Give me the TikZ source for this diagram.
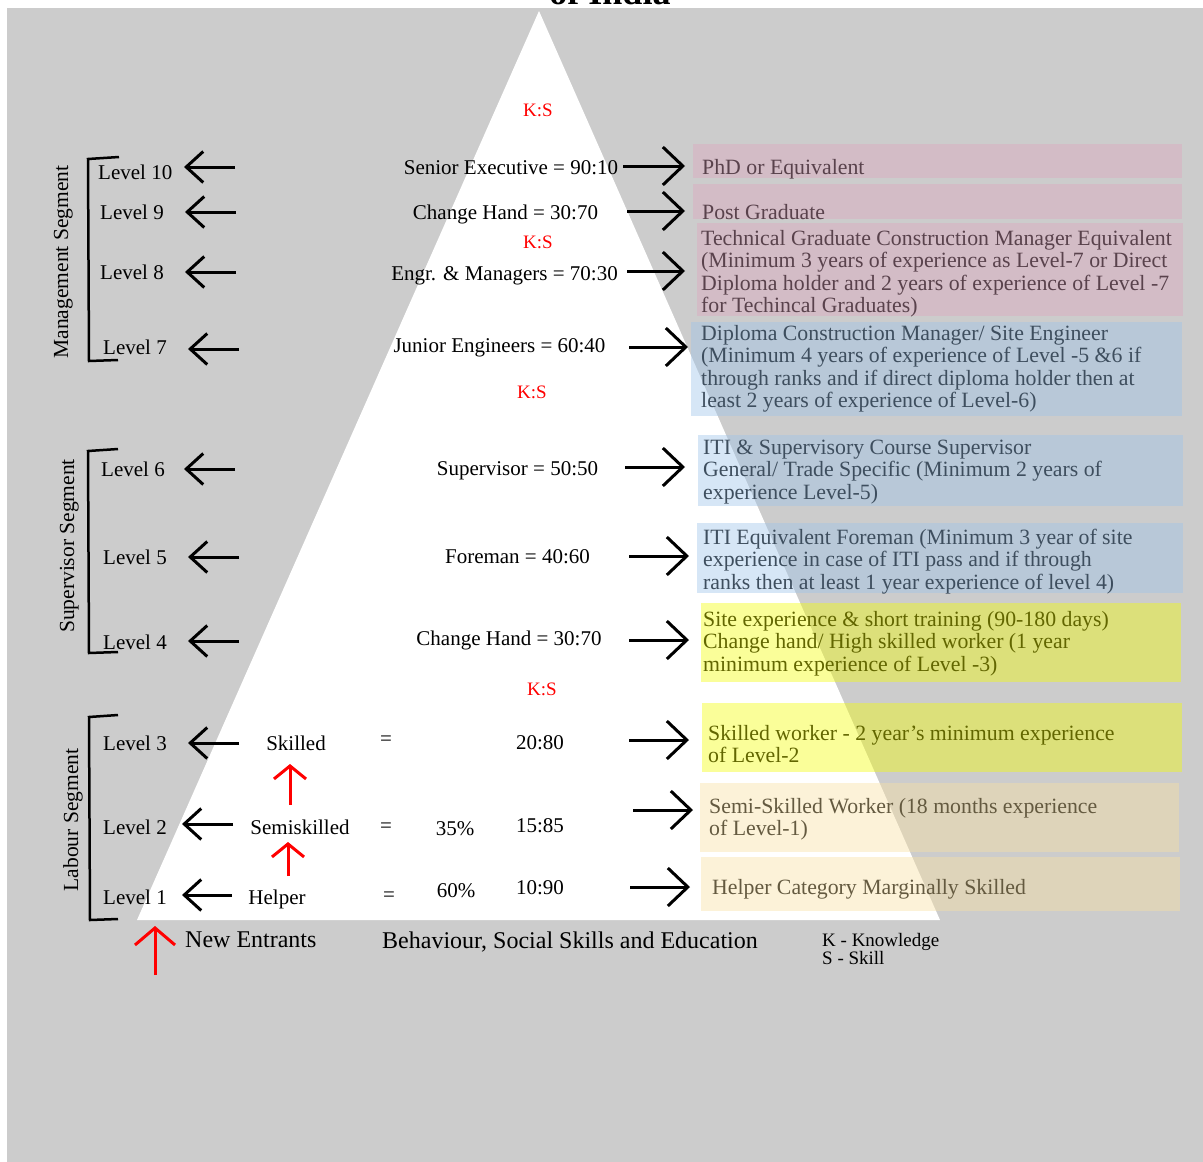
\documentclass[tikz,border=0pt]{standalone}
\usepackage{fontspec}
\setmainfont{Liberation Serif}
\usetikzlibrary{arrows.meta}
\definecolor{bggray}{RGB}{204,204,204}
\definecolor{pinkC}{RGB}{222,164,189}
\definecolor{blueC}{RGB}{154,194,234}
\definecolor{yelC}{RGB}{244,254,0}
\definecolor{beigeC}{RGB}{249,224,159}
\definecolor{pinkT}{RGB}{89,66,76}
\definecolor{blueT}{RGB}{62,78,94}
\definecolor{yelT}{RGB}{98,102,0}
\definecolor{beigeT}{RGB}{100,90,64}
\definecolor{ksred}{RGB}{255,0,0}
\begin{document}
\begin{tikzpicture}[x=1pt,y=-1pt,
 txt/.style={inner sep=0pt, anchor=base, font=\fontsize{21}{22.5}\selectfont, text=black},
 lvl/.style={txt, anchor=base west},
 ks/.style={inner sep=0pt, anchor=base, font=\fontsize{19}{22}\selectfont, text=ksred},
 seg/.style={inner sep=0pt, anchor=base, rotate=90, font=\fontsize{21.5}{24}\selectfont},
 cbox/.style={inner sep=0pt, anchor=north west, fill=#1, fill opacity=0.4, draw=none},
 btxt/.style={inner sep=0pt, anchor=north west, align=left, font=\fontsize{21.8}{22.5}\selectfont, text=#1},
 bigtxt/.style={inner sep=0pt, anchor=base west, font=\fontsize{24}{26}\selectfont},
 legtxt/.style={inner sep=0pt, anchor=base west, font=\fontsize{19}{18}\selectfont},
 larr/.style={line width=3pt, -{Straight Barb[length=17pt,width=31pt]}},
 rarr/.style={line width=3pt, -{Straight Barb[length=20pt,width=38pt]}},
 uarr/.style={line width=3pt, draw=red, -{Straight Barb[length=13pt,width=32pt]}},
 brk/.style={line width=2.5pt, line join=miter},
]
\useasboundingbox (0,0) rectangle (1203,1162);
\fill[white] (0,0) rectangle (1203,1162);
\fill[bggray] (7,8) rectangle (1203,1162);
% clipped title remnant
\begin{scope}
\clip (0,0) rectangle (1203,8);
\node[inner sep=0pt, anchor=base, font=\fontsize{36}{38}\selectfont\bfseries] (title) at (610,4) {of India};
\end{scope}
% pyramid
\fill[white] (539,11) -- (137,920) -- (940,920) -- cycle;

% coloured boxes
\node[cbox=pinkC, minimum width=489pt, minimum height=34pt] (b1) at (693,144) {};
\node[cbox=pinkC, minimum width=489pt, minimum height=35pt] (b2) at (693,184) {};
\node[cbox=pinkC, minimum width=486pt, minimum height=93pt] (b3) at (697,223) {};
\node[cbox=blueC, minimum width=491pt, minimum height=94pt] (b4) at (691,322) {};
\node[cbox=blueC, minimum width=485pt, minimum height=71pt] (b5) at (698,435) {};
\node[cbox=blueC, minimum width=486pt, minimum height=70pt] (b6) at (697,523) {};
\node[cbox=yelC, minimum width=480pt, minimum height=79pt] (b7) at (701,603) {};
\node[cbox=yelC, minimum width=480pt, minimum height=69pt] (b8) at (702,703) {};
\node[cbox=beigeC, minimum width=479pt, minimum height=69pt] (b9) at (700,783) {};
\node[cbox=beigeC, minimum width=479pt, minimum height=54pt] (b10) at (701,857) {};

% box texts
\node[btxt=pinkT] (t1) at (702,158.25) {\strut PhD or Equivalent};
\node[btxt=pinkT] (t2) at (702,203.25) {\strut Post Graduate};
\node[btxt=pinkT] (t3) at (701,229.25) {\strut Technical Graduate Construction Manager Equivalent\\(Minimum 3 years of experience as Level-7 or Direct\\Diploma holder and 2 years of experience of Level -7\\for Techincal Graduates)};
\node[btxt=blueT] (t4) at (701,324.25) {\strut Diploma Construction Manager/ Site Engineer\\(Minimum 4 years of experience of Level -5 \&6 if\\through ranks and if direct diploma holder then at\\least 2 years of experience of Level-6)};
\node[btxt=blueT] (t5) at (703,438.25) {\strut ITI \& Supervisory Course Supervisor\\General/ Trade Specific (Minimum 2 years of\\experience Level-5)};
\node[btxt=blueT] (t6) at (703,528.25) {\strut ITI Equivalent Foreman (Minimum 3 year of site\\experience in case of ITI pass and if through\\ranks then at least 1 year experience of level 4)};
\node[btxt=yelT] (t7) at (703,610.25) {\strut Site experience \& short training (90-180 days)\\Change hand/ High skilled worker (1 year\\minimum experience of Level -3)};
\node[btxt=yelT] (t8) at (708,724.25) {\strut Skilled worker - 2 year's minimum experience\\of Level-2};
\node[btxt=beigeT] (t9) at (709,797.25) {\strut Semi-Skilled Worker (18 months experience\\of Level-1)};
\node[btxt=beigeT] (t10) at (712,878.25) {\strut Helper Category Marginally Skilled};

% K:S labels
\node[ks] (ks1) at (538,116.5) {K:S};
\node[ks] (ks2) at (538,248.5) {K:S};
\node[ks] (ks3) at (532,398.5) {K:S};
\node[ks] (ks4) at (542,695.5) {K:S};

% centre texts
\node[txt] (c1) at (511,174) {Senior Executive = 90:10};
\node[txt] (c2) at (505.5,219) {Change Hand = 30:70};
\node[txt] (c3) at (504.5,280) {Engr. \& Managers = 70:30};
\node[txt] (c4) at (499.5,352) {Junior Engineers = 60:40};
\node[txt] (c5) at (517.5,475) {Supervisor = 50:50};
\node[txt] (c6) at (517.5,563) {Foreman = 40:60};
\node[txt] (c7) at (509,645) {Change Hand = 30:70};
\node[txt] (sk) at (296,750) {Skilled};
\node[txt] (ssk) at (300,834) {Semiskilled};
\node[txt] (hp) at (277,904) {Helper};
\node[txt] (e3) at (386,745) {=};
\node[txt] (e2) at (386,832) {=};
\node[txt] (e1) at (389,901) {=};
\node[txt] (r3) at (540,749) {20:80};
\node[txt] (r2) at (540,832) {15:85};
\node[txt] (r1) at (540,894) {10:90};
\node[txt] (p2) at (455,835) {35\%};
\node[txt] (p1) at (456,897) {60\%};

% level labels
\node[lvl] (l10) at (98,179) {Level 10};
\node[lvl] (l9) at (100,219) {Level 9};
\node[lvl] (l8) at (100,279) {Level 8};
\node[lvl] (l7) at (103,354) {Level 7};
\node[lvl] (l6) at (101,476) {Level 6};
\node[lvl] (l5) at (103,564) {Level 5};
\node[lvl] (l4) at (103,649) {Level 4};
\node[lvl] (l3) at (103,750) {Level 3};
\node[lvl] (l2) at (103,834) {Level 2};
\node[lvl] (l1) at (103,904) {Level 1};

% segment brackets and labels
\draw[brk] (119,157) -- (88,159) -- (89,361) -- (118,360);
\draw[brk] (118,449) -- (88,451) -- (89,653) -- (118,652);
\draw[brk] (118,715) -- (89,717) -- (90,920) -- (118,919);
\node[seg] (mseg) at (68,262) {Management Segment};
\node[seg] (sseg) at (74,546) {Supervisor Segment};
\node[seg] (lseg) at (78,820) {Labour Segment};

% left arrows
\coordinate (la10) at (235,167); \coordinate (lt10) at (184,167);
\coordinate (la9) at (236,212);  \coordinate (lt9) at (185,212);
\coordinate (la8) at (236,272);  \coordinate (lt8) at (185,272);
\coordinate (la7) at (239,349);  \coordinate (lt7) at (188,349);
\coordinate (la6) at (235,469);  \coordinate (lt6) at (184,469);
\coordinate (la5) at (239,557);  \coordinate (lt5) at (188,557);
\coordinate (la4) at (239,641);  \coordinate (lt4) at (188,641);
\coordinate (la3) at (239,743);  \coordinate (lt3) at (188,743);
\coordinate (la2) at (233,824);  \coordinate (lt2) at (182,824);
\coordinate (la1) at (232,895);  \coordinate (lt1) at (182,895);
\foreach \i in {1,...,10} { \draw[larr] (la\i) -- (lt\i); }

% right arrows
\coordinate (ra1) at (623,166);
\coordinate (ra2) at (627,211);
\coordinate (ra3) at (627,271);
\coordinate (ra4) at (629,347);
\coordinate (ra5) at (625,467);
\coordinate (ra6) at (629,556);
\coordinate (ra7) at (629,640);
\coordinate (ra8) at (629,740);
\coordinate (ra9) at (633,810);
\coordinate (ra10) at (630,887);
\draw[rarr] (ra1) -- ([xshift=-8pt]b1.west |- ra1);
\draw[rarr] (ra2) -- ([xshift=-8pt]b2.west |- ra2);
\draw[rarr] (ra3) -- ([xshift=-12pt]b3.west |- ra3);
\draw[rarr] (ra4) -- ([xshift=-3pt]b4.west |- ra4);
\draw[rarr] (ra5) -- ([xshift=-13pt]b5.west |- ra5);
\draw[rarr] (ra6) -- ([xshift=-8pt]b6.west |- ra6);
\draw[rarr] (ra7) -- ([xshift=-12pt]b7.west |- ra7);
\draw[rarr] (ra8) -- ([xshift=-13pt]b8.west |- ra8);
\draw[rarr] (ra9) -- ([xshift=-7pt]b9.west |- ra9);
\draw[rarr] (ra10) -- ([xshift=-11pt]b10.west |- ra10);

% red up arrows
\coordinate (u1a) at (288,876); \coordinate (u1b) at (288,842);
\coordinate (u2a) at (290,805); \coordinate (u2b) at (290,764);
\coordinate (nea) at (155,975); \coordinate (neb) at (155,926);
\draw[uarr] (u1a) -- (u1b);
\draw[uarr] (u2a) -- (u2b);
\draw[uarr, -{Straight Barb[length=17pt,width=40pt]}] (nea) -- (neb);

% bottom texts
\node[bigtxt] (ne) at (185,947) {New Entrants};
\node[bigtxt] (bse) at (382,948) {Behaviour, Social Skills and Education};
\node[legtxt] (lg1) at (822,946) {K - Knowledge};
\node[legtxt] (lg2) at (822,964) {S - Skill};
\end{tikzpicture}
\end{document}
